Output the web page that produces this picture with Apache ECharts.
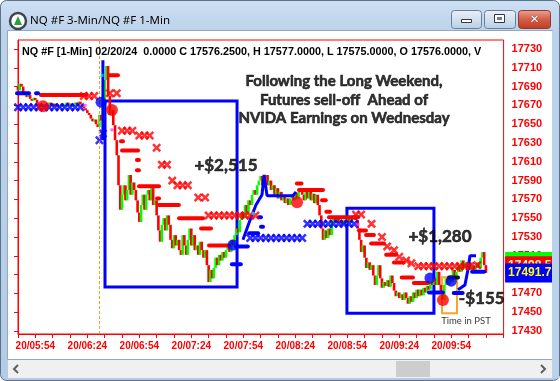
<!DOCTYPE html>
<html><head><meta charset="utf-8">
<script src="https://cdn.jsdelivr.net/npm/echarts@6/dist/echarts.min.js"></script>
<style>html,body{margin:0;padding:0;background:#fff}#c{width:560px;height:381px}</style>
</head><body><div id="c"></div>
<script>
// x values: minutes after 05:44 on 20 Feb
const xTickValues = [0,10,20,30,40,50,60,70,80,90,100,110,120,130,140,150,160,170,180,190,200,210,220,230,240,250,260,270,280];
const xLabelValues = [10,40,70,100,130,160,190,220,250];
const xTickLabels = ['20/05:54','20/06:24','20/06:54','20/07:24','20/07:54','20/08:24','20/08:54','20/09:24','20/09:54'];
const yTickValues = [17430,17450,17470,17490,17510,17530,17550,17570,17590,17610,17630,17650,17670,17690,17710,17730];

// 1-min closes (one per minute starting 05:44)
const closes = [
17686,17693,17690,17684,17681,17679,17681,17677,17675,17678,
17676,17672,17670,17671,17669,17671,17668,17671,17673,17670,
17672,17669,17671,17668,17670,17672,17669,17671,17673,17670,
17672,17669,17671,17673,17671,17674,17671,17669,17667,17665,
17662,17660,17656,17653,17655,17650,17647,17660,17654,17676,
17697,17712,17680,17660,17665,17649,17633,17617,17585,17559,
17575,17585,17569,17580,17596,17575,17588,17580,17569,17556,
17546,17564,17575,17559,17575,17580,17569,17582,17564,17569,
17553,17537,17525,17543,17550,17537,17553,17543,17527,17518,
17532,17521,17527,17516,17511,17532,17521,17511,17527,17539,
17521,17532,17516,17521,17511,17525,17516,17508,17516,17500,
17482,17495,17486,17497,17508,17500,17511,17505,17514,17508,
17516,17521,17514,17527,17521,17532,17539,17535,17548,17556,
17550,17564,17556,17569,17564,17575,17580,17575,17585,17590,
17595,17585,17593,17596,17585,17590,17580,17585,17575,17582,
17571,17578,17569,17573,17566,17571,17564,17571,17575,17569,
17577,17571,17578,17582,17575,17569,17580,17571,17578,17569,
17576,17566,17575,17564,17553,17539,17527,17537,17529,17539,
17532,17546,17550,17546,17550,17545,17548,17543,17548,17544,
17550,17546,17552,17548,17553,17548,17539,17527,17514,17521,
17508,17497,17503,17495,17500,17489,17479,17489,17500,17486,
17476,17482,17478,17484,17477,17489,17481,17473,17467,17471,
17465,17469,17463,17471,17465,17459,17467,17461,17471,17465,
17474,17467,17474,17468,17476,17471,17478,17474,17482,17479,
17486,17479,17493,17479,17471,17463,17479,17486,17479,17489,
17482,17495,17486,17493,17500,17493,17505,17497,17503,17495,
17503,17495,17500,17493,17497,17503,17497,17508,17514,17500,17491.75];
const firstOpen = 17690;

// 3-min markers [minute, price]
const redX = [[38,17680],[41,17680],[44,17680],[53,17683],[57,17683],
[60,17643],[63,17643],[66,17643],[70,17638],[73,17638],[76,17638],[80,17625],
[83,17607],[86,17607],[89,17590],[92,17585],[95,17585],[98,17585],[104,17572],[108,17572],
[110,17553],[113,17553],[116,17553],[119,17553],[122,17553],[125,17553],[128,17553],[131,17553],[134,17553],[137,17553],
[195,17554],[198,17554],[204,17544],[210,17530],[213,17520],[217,17516],[220,17509],[224,17505],[227,17502],
[231,17499],[234,17499],[237,17499],[240,17499],[243,17499],[246,17499],[249,17499],[252,17499],[255,17499],[258,17499],[261,17499],[265,17500]];
const blueX = [[0,17668],[3,17668],[6,17668],[9,17668],[12,17668],[15,17668],[18,17668],[21,17668],[24,17668],[27,17668],[30,17668],[33,17668],[36,17668],
[47,17633],[49,17640],
[134,17529],[137,17529],[140,17529],[143,17529],[146,17529],[149,17529],[152,17529],[155,17529],[158,17529],[161,17529],[164,17529],
[167,17544],[170,17544],[173,17544],[176,17544],[179,17544],[182,17544],[185,17544],[188,17544],[191,17544],[194,17544]];
// stop dashes [fromMinute, toMinute, price]
const redDash = [[13.8,38.7,17681],[53.1,57.1,17702],[60,60,17632],[60.6,68.7,17622],[69.2,69.2,17612],[69.2,69.2,17601],
[70.4,80.8,17584],[80.8,80.8,17571],[81.9,92.3,17564],[93.5,106.2,17550],[106.2,110.8,17539],[110.8,121.2,17521],
[161.5,163,17587],[162.7,175.4,17580],[176,177,17569],[178.5,179.5,17557],[180,195.6,17551],
[197.3,200.2,17537],[201.4,204.8,17532],[204.3,210.6,17523],[213,217.5,17511],[217.5,222,17503],[222,227.3,17487],[229,236,17481]];
const blueDash = [[0,5.8,17683],[11,11,17683],[126.4,132,17520],[124,128,17501],[134,138,17534],[139.6,139.6,17551],[140.8,140.8,17541],
[237.7,244.6,17471],[252,256,17470.5],[262.6,268.3,17493]];
const blackDash = [[249.3,253.3,17487]];
const redBig = [[14.4,17669],[54.2,17665],[161,17567],[245.2,17463]];
const blueBig = [[47.9,17673.5],[124,17521.4],[237.7,17486.3],[250,17483]];
const blueLineA = [[49,17718],[49,17633]];
const blueLineB = [[129.8,17527],[133.9,17548],[137.3,17564],[140.8,17575],[142,17596],[143.7,17574],[158.7,17574],[160.4,17578]];
const blueLineC = [[253.9,17474],[257.9,17479],[259.6,17495],[260.8,17510],[264.3,17510]];
const cyanDots = [[48.5,17702],[135.6,17555]];
const pinkDots = [[38.7,17670],[54.2,17644],[196.2,17543]];
// trade boxes [x1, p1, x2, p2]
const blueBoxes = [[50.2,17674.6,126.4,17476.7],[189.8,17560.7,240,17449]];
const orangeBoxes = [[244.7,17487.3,253.3,17449]];
const cursorMinute = 46.7;
// right-edge price tags
const tagPrices = [17504, 17499.5, 17491.75];
const tagTexts = ['17504.00','17498.50','17491.75'];
// notes [minute, price, text]
const notes = [
 [188.1,17676,'Following the Long Weekend,\nFutures sell-off  Ahead of\nNVIDA Earnings on Wednesday','big'],
 [120,17606.5,'+$2,515','pnl'],
 [243.5,17531,'+$1,280','pnl'],
 [267.6,17465,'-$155','pnl'],
 [258.5,17440.5,'Time in PST','small']
];

const RED='#ff0000', GREEN='#00ff00', BLUE='#0000ff';
const bars = closes.map((c,i)=>[i, i===0?firstOpen:closes[i-1], c]);
const xPath = 'path://M0,2L2,0L5,3L8,0L10,2L7,5L10,8L8,10L5,7L2,10L0,8L3,5Z';

function segSeries(data,color,z){
  return {type:'custom', data:data, z:z, silent:true,
    renderItem:function(p,api){
      const a=api.coord([api.value(0),api.value(2)]), b=api.coord([api.value(1),api.value(2)]);
      return {type:'line', shape:{x1:a[0]-1,y1:a[1],x2:b[0]+1,y2:b[1]}, style:{stroke:color,lineWidth:4,lineCap:'round'}};
    }};
}
function boxArea(boxes,color,w){
  return {silent:true, itemStyle:{color:'rgba(0,0,0,0)',borderColor:color,borderWidth:w},
    data: boxes.map(b=>[{coord:[b[0],b[1]]},{coord:[b[2],b[3]]}])};
}
const tagColors=[['#00ff00','#00ff00'],['#ff0000','#ffff99'],['#0000ff','#ffff00']];

const chart = echarts.init(document.getElementById('c'));
const grad = (stops)=>new echarts.graphic.LinearGradient(0,0,0,1,stops);
const noteFont = {fontFamily:'Lato',fontWeight:'bold',color:'#000',align:'center',textBorderColor:'#000',textBorderWidth:0.6};
chart.setOption({
  animation:false,
  grid:{left:18,right:56.4,top:40,bottom:47,show:true,borderColor:RED,borderWidth:1},
  xAxis:{type:'value',min:0,max:280.2,
    axisLine:{show:true,onZero:false,lineStyle:{color:RED}},
    axisTick:{show:true,length:4,customValues:xTickValues,lineStyle:{color:RED}},
    axisLabel:{customValues:xLabelValues,formatter:v=>xTickLabels[Math.round((v-10)/30)],color:RED,fontWeight:'bold',fontSize:10,fontFamily:'Liberation Sans',margin:7},
    splitLine:{show:false}},
  yAxis:{type:'value',position:'right',min:17426.8,max:17739.6,
    axisLine:{show:true,lineStyle:{color:RED}},
    axisTick:{show:true,inside:true,length:4,customValues:yTickValues,lineStyle:{color:RED}},
    axisLabel:{customValues:yTickValues,formatter:v=>String(v),color:RED,fontWeight:'bold',fontSize:11,fontFamily:'Liberation Sans',margin:8},
    splitLine:{show:false}},
  series:[
    {type:'custom',data:bars,z:2,silent:true,
     renderItem:function(p,api){
       const o=api.value(1), c=api.value(2);
       const a=api.coord([api.value(0),o]), b=api.coord([api.value(0),c]);
       const top=Math.min(a[1],b[1]), h=Math.max(Math.abs(a[1]-b[1]),2);
       return {type:'rect',shape:{x:a[0]-1.3,y:top,width:2.6,height:h},style:{fill:c>o?GREEN:RED}};
     },
     markArea:boxArea(blueBoxes,BLUE,3),
     markLine:{silent:true,symbol:'none',data:[{xAxis:cursorMinute}],lineStyle:{color:'#f0a030',type:[3,2],width:1},label:{show:false}}},
    segSeries(redDash,RED,3),
    segSeries(blueDash,BLUE,3),
    segSeries(blackDash,'#101010',4),
    {type:'line',data:blueLineA,z:3,symbol:'none',silent:true,lineStyle:{color:BLUE,width:3}},
    {type:'line',data:blueLineB,z:3,symbol:'none',silent:true,lineStyle:{color:BLUE,width:3}},
    {type:'line',data:blueLineC,z:3,symbol:'none',silent:true,lineStyle:{color:BLUE,width:3}},
    {type:'scatter',data:redX,z:4,symbol:xPath,symbolSize:9,silent:true,itemStyle:{color:RED}},
    {type:'scatter',data:blueX,z:4,symbol:xPath,symbolSize:9,silent:true,itemStyle:{color:BLUE},
     markArea:boxArea(orangeBoxes,'#f5a623',2)},
    {type:'scatter',data:cyanDots,z:4,symbol:'rect',symbolSize:3,silent:true,itemStyle:{color:'#00e0ff'}},
    {type:'scatter',data:pinkDots,z:4,symbol:'rect',symbolSize:3,silent:true,itemStyle:{color:'#ff40ff'}},
    {type:'scatter',data:redBig,z:5,symbolSize:12,silent:true,itemStyle:{color:RED}},
    {type:'scatter',data:blueBig,z:5,symbolSize:11,silent:true,itemStyle:{color:BLUE}},
    {type:'scatter',data:notes.map(n=>({value:[n[0],n[1]],name:n[2],kind:n[3]})),z:6,symbolSize:0,silent:true,
     label:{show:true,position:'inside',formatter:p=>'{'+p.data.kind+'|'+p.data.name.split('\n').join('}\n{'+p.data.kind+'|')+'}',
       rich:{big:Object.assign({fontSize:15,lineHeight:18.5},noteFont),
             pnl:Object.assign({fontSize:17},noteFont),
             small:{fontFamily:'Lato',fontSize:9.5,color:'#000',align:'center'}}}},
    // price tags at the right edge of the plot
    {type:'custom',data:tagPrices.map((p,k)=>[k,p]),z:20,silent:true,clip:false,
     renderItem:function(params,api){
       const k=api.value(0), cs=params.coordSys;
       const y=api.coord([0,api.value(1)])[1];
       const x=cs.x+cs.width+1.5;
       return {type:'group',children:[
         {type:'rect',shape:{x:x,y:y-9.5,width:60,height:19},style:{fill:tagColors[k][0]}},
         {type:'text',style:{x:x+3,y:y,text:tagTexts[k],fill:tagColors[k][1],font:'bold 12px "Liberation Sans"',verticalAlign:'middle'}}
       ]};
     }}
  ],
  graphic:[
    {type:'rect',z:-5,silent:true,shape:{x:0.5,y:0.5,width:559,height:380,r:6},style:{fill:grad([{offset:0,color:'#cddff2'},{offset:0.08,color:'#bcd3ec'},{offset:1,color:'#b4cbe6'}]),stroke:'#5d7188',lineWidth:1}},
    {type:'rect',z:-4,silent:true,shape:{x:7.5,y:30.5,width:545,height:329},style:{fill:'#ffffff',stroke:'#93a9c3',lineWidth:1}},
    // scrollbar
    {type:'rect',z:-4,silent:true,shape:{x:8,y:360,width:544,height:18},style:{fill:'#f0f0f0'}},
    {type:'rect',z:-3,silent:true,shape:{x:396,y:361,width:34,height:16},style:{fill:'#cdcdcd'}},
    {type:'polyline',z:-3,silent:true,shape:{points:[[18,365],[14,369],[18,373]]},style:{stroke:'#606060',lineWidth:2,fill:null}},
    {type:'polyline',z:-3,silent:true,shape:{points:[[541,365],[545,369],[541,373]]},style:{stroke:'#606060',lineWidth:2,fill:null}},
    // right frame strip (clips price tags)
    {type:'rect',z:100,silent:true,shape:{x:552,y:31,width:7.5,height:347},style:{fill:'#bcd2ea'}},
    {type:'line',z:100,silent:true,shape:{x1:559.5,y1:6,x2:559.5,y2:376},style:{stroke:'#5d7188',lineWidth:1}},
    // title bar
    {type:'circle',z:1,silent:true,shape:{cx:18,cy:21,r:8},style:{fill:'#ffffff',stroke:'#3d4650',lineWidth:2.5}},
    {type:'polygon',z:1,silent:true,shape:{points:[[18,16],[22,25],[14,25]]},style:{fill:'#2e9e3a'}},
    {type:'text',z:1,silent:true,style:{x:30,y:21,text:'NQ #F 3-Min/NQ #F 1-Min',fontFamily:'Noto Sans',fontSize:11.5,fill:'#000',verticalAlign:'middle'}},
    {type:'rect',z:1,silent:true,shape:{x:451.5,y:10.5,width:30,height:18,r:3},style:{fill:grad([{offset:0,color:'#e9f0f8'},{offset:0.5,color:'#d3e0ef'},{offset:1,color:'#b9cde4'}]),stroke:'#6b7f98'}},
    {type:'rect',z:1,silent:true,shape:{x:461.5,y:19.5,width:10,height:3},style:{fill:'#ffffff',stroke:'#333a44'}},
    {type:'rect',z:1,silent:true,shape:{x:484.5,y:10.5,width:31,height:18,r:3},style:{fill:grad([{offset:0,color:'#e9f0f8'},{offset:0.5,color:'#d3e0ef'},{offset:1,color:'#b9cde4'}]),stroke:'#6b7f98'}},
    {type:'rect',z:1,silent:true,shape:{x:494.5,y:14.5,width:10,height:8},style:{fill:'#ffffff',stroke:'#333a44',lineWidth:1}},
    {type:'rect',z:1,silent:true,shape:{x:497,y:17,width:5,height:3},style:{fill:'#6b7f98'}},
    {type:'rect',z:1,silent:true,shape:{x:518.5,y:10.5,width:32,height:18,r:3},style:{fill:grad([{offset:0,color:'#eba595'},{offset:0.5,color:'#d35d45'},{offset:1,color:'#c13a22'}]),stroke:'#8a3a2e'}},
    {type:'text',z:2,silent:true,style:{x:534.5,y:19.5,text:'✕',fontFamily:'DejaVu Sans',fontWeight:'bold',fontSize:12,fill:'#ffffff',align:'center',verticalAlign:'middle',stroke:'#7a2a20',lineWidth:0.6}},
    // chart header
    {type:'text',z:50,silent:true,style:{x:22,y:52,text:'NQ #F [1-Min] 02/20/24  0.0000 C 17576.2500, H 17577.0000, L 17575.0000, O 17576.0000, V',fontFamily:'Liberation Sans',fontWeight:'bold',fontSize:10.8,fill:'#000',verticalAlign:'middle'}}
  ]
});
</script></body></html>
